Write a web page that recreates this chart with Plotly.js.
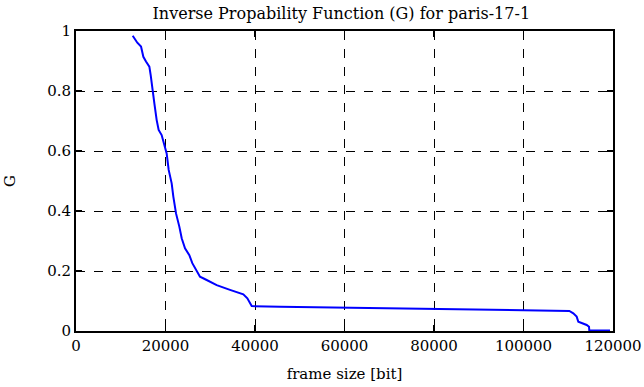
<!DOCTYPE html>
<html>
<head>
<meta charset="utf-8">
<script src="https://cdn.plot.ly/plotly-3.0.1.min.js"></script>
<style>html,body{margin:0;padding:0;background:#fff;}#chart{width:644px;height:387px;}</style>
</head>
<body>
<div id="chart"></div>
<script>
const frameSize = [12670, 13700, 14530, 15050, 15640, 16390, 16690, 17060, 17510, 18030, 18470, 19140, 19660, 20260, 20710, 21380, 21750, 22350, 23090, 23620, 24360, 25330, 25990, 26970, 27710, 29200, 31440, 34410, 37390, 38290, 39260, 45590, 60000, 79100, 95000, 110240, 111130, 111880, 112250, 114120, 114640, 114700, 119330];
const gValues = [0.984, 0.961, 0.948, 0.914, 0.898, 0.881, 0.853, 0.803, 0.759, 0.703, 0.670, 0.653, 0.620, 0.592, 0.537, 0.492, 0.448, 0.392, 0.348, 0.309, 0.276, 0.253, 0.226, 0.203, 0.181, 0.170, 0.153, 0.137, 0.122, 0.109, 0.083, 0.081, 0.078, 0.072, 0.069, 0.0667, 0.059, 0.048, 0.031, 0.020, 0.014, 0.002, 0.002];
const xTicks = [0, 20000, 40000, 60000, 80000, 100000, 120000];
const yTicks = [0, 0.2, 0.4, 0.6, 0.8, 1];
const yTickText = ['0', '0.2', '0.4', '0.6', '0.8', '1'];

const font = {family: '"DejaVu Serif", "Liberation Serif", serif', size: 15, color: '#000'};
const titleFont = {family: '"DejaVu Serif", "Liberation Serif", serif', size: 16, color: '#000'};
const axisCommon = {
  showline: true, linecolor: '#000', linewidth: 2, mirror: 'ticks',
  ticks: 'inside', ticklen: 6, tickwidth: 1.5, tickcolor: '#000',
  showgrid: true, gridcolor: '#000', gridwidth: 1, griddash: 'dash',
  zeroline: false, tickfont: font
};
Plotly.newPlot('chart', [{
  x: frameSize, y: gValues, mode: 'lines', type: 'scatter',
  line: {color: '#0000ff', width: 2}
}], {
  width: 644, height: 387,
  margin: {l: 76, r: 31, t: 31, b: 56},
  paper_bgcolor: '#fff', plot_bgcolor: '#fff',
  showlegend: false,
  font: font,
  title: {text: 'Inverse Propability Function (G) for paris-17-1', font: titleFont, x: 0.53, xanchor: 'center', y: 0.965, yanchor: 'middle'},
  xaxis: Object.assign({}, axisCommon, {range: [0, 120000], tickvals: xTicks, ticktext: xTicks.map(String),
    title: {text: 'frame size [bit]', font: font, standoff: 14}}),
  yaxis: Object.assign({}, axisCommon, {range: [0, 1], tickvals: yTicks, ticktext: yTickText,
    title: {text: 'G', font: font, standoff: 28}})
}, {displayModeBar: false, staticPlot: true});
</script>
</body>
</html>
